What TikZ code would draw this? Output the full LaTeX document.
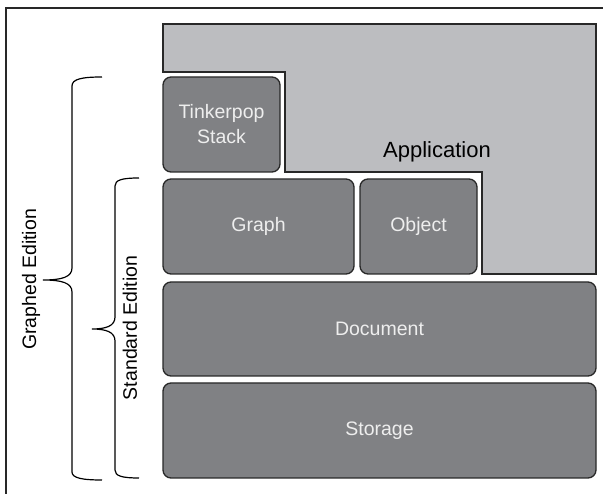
\documentclass[tikz,border=0pt]{standalone}
\usepackage{fontspec}
\setmainfont{Liberation Sans}
\definecolor{appgray}{RGB}{188,189,192}
\definecolor{boxgray}{RGB}{128,129,132}
\definecolor{edgegray}{RGB}{40,40,40}
\definecolor{labelwhite}{RGB}{238,238,238}
\begin{document}
\begin{tikzpicture}[x=1pt,y=-1pt,
  layer/.style={draw=edgegray, line width=1.3pt, fill=boxgray, rounded corners=8pt,
    text=labelwhite, font=\fontsize{19.5}{22}\selectfont, align=center,
    inner sep=0pt, outer sep=0pt},
  sidelabel/.style={rotate=90, font=\fontsize{19.5}{22}\selectfont, inner sep=0pt},
  bracestroke/.style={draw=black, line width=1.2pt}]
\useasboundingbox (0,0) rectangle (603,494);

% frame: top and left rules
\draw[line width=1.5pt, edgegray] (6,494) -- (6,8) -- (603,8);

% application area with its notch
\path[fill=appgray, draw=edgegray, line width=1.3pt]
  (163,24) -- (596,24) -- (596,274) -- (482,274) -- (482,172)
  -- (285,172) -- (285,72) -- (163,72) -- cycle;
\node[font=\fontsize{22}{26}\selectfont, inner sep=0pt] (app) at (437,152) {Application};

% stacked layers
\node[layer, minimum width=117pt, minimum height=95pt] (tinker) at (221.5,124.5) {Tinkerpop\\[3pt]Stack};
\node[layer, minimum width=191pt, minimum height=95pt] (graph) at (258.5,226.5) {Graph};
\node[layer, minimum width=117pt, minimum height=95pt] (object) at (418.5,226.5) {Object};
\node[layer, minimum width=433pt, minimum height=94pt] (document) at (379.5,329) {Document};
\node[layer, minimum width=433pt, minimum height=95pt] (storage) at (379.5,430.5) {Storage};

% brace spanning the graphed edition
\draw[bracestroke] (102,77) .. controls (82,77) and (72,79) .. (72,86)
  -- (72,268) .. controls (72,277) and (62,280) .. (43,280)
  .. controls (62,280) and (72,283) .. (72,292)
  -- (72,472) .. controls (72,478) and (82,480) .. (102,480);
\node[sidelabel] (graphed) at (31,279.5) {Graphed Edition};

% brace spanning the standard edition
\draw[bracestroke] (139,178) .. controls (122,178) and (115,180) .. (115,186)
  -- (115,317) .. controls (115,326) and (106,329) .. (92,329)
  .. controls (106,329) and (115,332) .. (115,341)
  -- (115,470) .. controls (115,476) and (122,478) .. (139,478);
\node[sidelabel] (standard) at (130,328) {Standard Edition};
\end{tikzpicture}
\end{document}
